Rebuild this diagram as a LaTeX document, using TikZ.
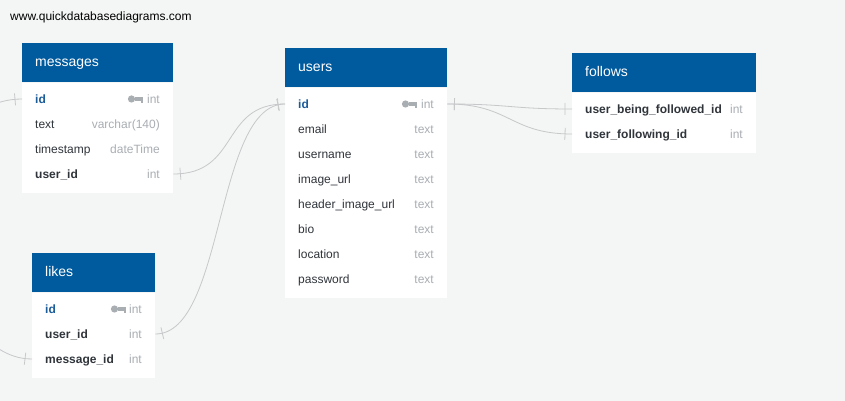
\documentclass[tikz,border=0pt]{standalone}
\usepackage{fontspec}
\setmainfont{Liberation Sans}
\usetikzlibrary{decorations.markings}
\definecolor{bg}{HTML}{F4F5F5}
\definecolor{hdrblue}{HTML}{005A9E}
\definecolor{fldtxt}{HTML}{30353B}
\definecolor{typtxt}{HTML}{A9AEB3}
\definecolor{pkblue}{HTML}{1B5C9B}
\definecolor{relg}{HTML}{C6C8C9}
\tikzset{
  hdr/.style={fill=hdrblue, text=white, anchor=north west, minimum height=39pt,
    inner xsep=13pt, inner ysep=0pt, align=left, text height=10pt, text depth=2pt,
    font=\fontsize{14}{16}\selectfont},
  tbl/.style={fill=white, anchor=north west, inner sep=0pt},
  fld/.style={anchor=west, inner sep=0pt, text height=11pt, text depth=1pt,
    text=fldtxt, font=\fontsize{12}{14}\selectfont},
  fk/.style={fld, font=\fontsize{12}{14}\selectfont\bfseries},
  pk/.style={fk, text=pkblue},
  typ/.style={fld, anchor=east, text=typtxt},
  rel/.style={draw=relg, line width=0.8pt, postaction={decorate},
    decoration={markings,
      mark=at position 7pt with {\draw[relg, line width=0.8pt] (0,-6pt) -- (0,6pt);},
      mark=at position -7pt with {\draw[relg, line width=0.8pt] (0,-6pt) -- (0,6pt);}}},
  pkey/.pic={\fill[typtxt] (0,0) circle (3.6pt);
    \fill[typtxt] (3,-1.7) rectangle (11.5,1.7);
    \fill[typtxt] (9,-1.7) rectangle (11.5,-3.8);}
}
\begin{document}
\begin{tikzpicture}[x=1pt,y=1pt]
\useasboundingbox (0,0) rectangle (845,401);
\clip (0,0) rectangle (845,401);
\fill[bg] (0,0) rectangle (845,401);
\node[anchor=west, inner sep=0pt, font=\fontsize{12}{14}\selectfont] (site) at (10,384) {www.quickdatabasediagrams.com};

% messages
\node[hdr, minimum width=151pt, text width=125pt] (messages) at (22,358) {messages};
\node[tbl, minimum width=151pt, minimum height=110pt] (messagesb) at (messages.south west) {};
\node[pk] (m1) at (35,302) {id};
\pic at (131.5,302) {pkey};
\node[typ] (m1t) at (160,302) {int};
\node[fld] (m2) at (35,277) {text};
\node[typ] (m2t) at (160,277) {varchar(140)};
\node[fld] (m3) at (35,252) {timestamp};
\node[typ] (m3t) at (160,252) {dateTime};
\node[fk] (m4) at (35,227) {user\_id};
\node[typ] (m4t) at (160,227) {int};

% likes
\node[hdr, minimum width=123pt, text width=97pt] (likes) at (32,148) {likes};
\node[tbl, minimum width=123pt, minimum height=85pt] (likesb) at (likes.south west) {};
\node[pk] (l1) at (45,92) {id};
\pic at (114.5,92) {pkey};
\node[typ] (l1t) at (142,92) {int};
\node[fk] (l2) at (45,67) {user\_id};
\node[typ] (l2t) at (142,67) {int};
\node[fk] (l3) at (45,42) {message\_id};
\node[typ] (l3t) at (142,42) {int};

% users
\node[hdr, minimum width=162pt, text width=136pt] (users) at (285,353) {users};
\node[tbl, minimum width=162pt, minimum height=210pt] (usersb) at (users.south west) {};
\node[pk] (u1) at (298,297) {id};
\pic at (405.5,297) {pkey};
\node[typ] (u1t) at (434,297) {int};
\node[fld] (u2) at (298,272) {email};
\node[typ] (u2t) at (434,272) {text};
\node[fld] (u3) at (298,247) {username};
\node[typ] (u3t) at (434,247) {text};
\node[fld] (u4) at (298,222) {image\_url};
\node[typ] (u4t) at (434,222) {text};
\node[fld] (u5) at (298,197) {header\_image\_url};
\node[typ] (u5t) at (434,197) {text};
\node[fld] (u6) at (298,172) {bio};
\node[typ] (u6t) at (434,172) {text};
\node[fld] (u7) at (298,147) {location};
\node[typ] (u7t) at (434,147) {text};
\node[fld] (u8) at (298,122) {password};
\node[typ] (u8t) at (434,122) {text};

% follows
\node[hdr, minimum width=184pt, text width=158pt] (follows) at (572,348) {follows};
\node[tbl, minimum width=184pt, minimum height=60pt] (followsb) at (follows.south west) {};
\node[fk] (f1) at (585,292) {user\_being\_followed\_id};
\node[typ] (f1t) at (743,292) {int};
\node[fk] (f2) at (585,267) {user\_following\_id};
\node[typ] (f2t) at (743,267) {int};

% relations
\draw[rel] (messagesb.east |- m4) .. controls (240,227) and (220,297) .. (usersb.west |- u1);
\draw[rel] (likesb.east |- l2) .. controls (225,67) and (215,297) .. (usersb.west |- u1);
\draw[rel] (usersb.east |- u1) .. controls (510,297) and (510,292) .. (followsb.west |- f1);
\draw[rel] (usersb.east |- u1) .. controls (510,297) and (510,267) .. (followsb.west |- f2);
\draw[rel] (messagesb.west |- m1) .. controls (-100,302) and (-70,42) .. (likesb.west |- l3);
\end{tikzpicture}
\end{document}
